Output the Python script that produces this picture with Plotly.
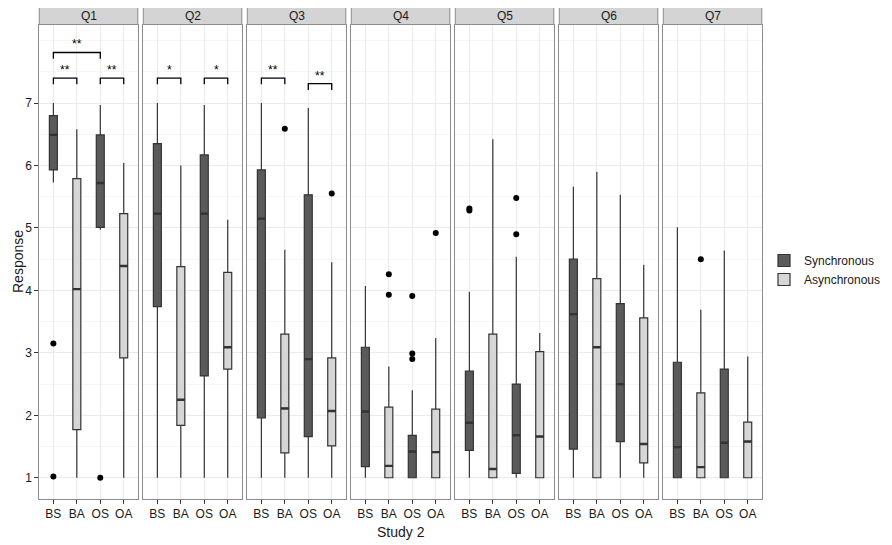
import plotly.graph_objects as go

# the page body adds an 8px margin, so the figure is drawn 8px smaller
# and reference pixel positions are shifted by OFF
OFF = 8
W, H = 892 - OFF, 545 - OFF

questions = ["Q1", "Q2", "Q3", "Q4", "Q5", "Q6", "Q7"]
conditions = ["BS", "BA", "OS", "OA"]
groups = ["Synchronous", "Asynchronous", "Synchronous", "Asynchronous"]

# box statistics per question, in the order of `conditions`
lower = [
    [5.73, 1.0, 4.97, 1.0],
    [1.0, 1.0, 1.0, 1.0],
    [1.0, 1.0, 1.0, 1.0],
    [1.0, 1.0, 1.0, 1.0],
    [1.0, 1.0, 1.0, 1.0],
    [1.0, 1.0, 1.0, 1.0],
    [1.0, 1.0, 1.0, 1.0],
]
q1 = [
    [5.93, 1.77, 5.01, 2.92],
    [3.74, 1.84, 2.63, 2.74],
    [1.96, 1.40, 1.66, 1.51],
    [1.18, 1.0, 1.0, 1.0],
    [1.44, 1.0, 1.07, 1.0],
    [1.46, 1.0, 1.58, 1.24],
    [1.0, 1.0, 1.0, 1.0],
]
median = [
    [6.49, 4.02, 5.72, 4.39],
    [5.23, 2.25, 5.23, 3.09],
    [5.15, 2.11, 2.90, 2.07],
    [2.06, 1.19, 1.42, 1.41],
    [1.88, 1.14, 1.68, 1.66],
    [3.62, 3.09, 2.50, 1.54],
    [1.49, 1.17, 1.56, 1.58],
]
q3 = [
    [6.80, 5.79, 6.49, 5.23],
    [6.35, 4.38, 6.17, 4.29],
    [5.93, 3.30, 5.53, 2.92],
    [3.09, 2.13, 1.68, 2.10],
    [2.71, 3.30, 2.50, 3.02],
    [4.50, 4.19, 3.79, 3.56],
    [2.85, 2.36, 2.74, 1.89],
]
upper = [
    [7.0, 6.58, 6.97, 6.04],
    [7.0, 6.0, 6.97, 5.13],
    [7.0, 4.65, 6.92, 4.45],
    [4.07, 2.78, 2.40, 3.24],
    [3.98, 6.42, 4.54, 3.32],
    [5.66, 5.90, 5.53, 4.41],
    [5.01, 3.69, 4.64, 2.94],
]
outliers = [
    [[3.15, 1.02], [], [1.0], []],
    [[], [], [], []],
    [[], [6.59], [], [5.55]],
    [[], [4.26, 3.93], [3.91, 2.99, 2.90], [4.92]],
    [[5.28, 5.31], [], [5.48, 4.90], []],
    [[], [], [], []],
    [[], [4.50], [], []],
]

# significance brackets: question, from, to, height, label
brackets = [
    ("Q1", "BS", "BA", 7.40, "**"),
    ("Q1", "OS", "OA", 7.40, "**"),
    ("Q1", "BS", "OS", 7.81, "**"),
    ("Q2", "BS", "BA", 7.40, "*"),
    ("Q2", "OS", "OA", 7.40, "*"),
    ("Q3", "BS", "BA", 7.40, "**"),
    ("Q3", "OS", "OA", 7.31, "**"),
]

fills = {"Synchronous": "#5a5a5a", "Asynchronous": "#d6d6d6"}
font = "Liberation Sans, Arial, sans-serif"


def px(x):
    return (x - OFF) / W


def py(y):
    return 1 - (y - OFF) / H


# panel geometry in reference pixels
left0, pw, step = 39.3, 98.5, 104.0
ptop, pbot = 25.0, 499.0
yrange = [0.66, 8.25]

fig = go.Figure()
shown = set()
for i, q in enumerate(questions):
    xa = "x" if i == 0 else f"x{i+1}"
    ya = "y" if i == 0 else f"y{i+1}"
    for j, c in enumerate(conditions):
        g = groups[j]
        fig.add_trace(go.Box(
            x=[c], q1=[q1[i][j]], median=[median[i][j]], q3=[q3[i][j]],
            lowerfence=[lower[i][j]], upperfence=[upper[i][j]],
            name=g, legendgroup=g, showlegend=g not in shown,
            fillcolor=fills[g], line=dict(color="#333333", width=1.2),
            width=0.34, whiskerwidth=0, boxpoints=False,
            xaxis=xa, yaxis=ya, hoverinfo="skip"))
        shown.add(g)
        # thicker median bar, drawn as a flat box
        m = median[i][j]
        fig.add_trace(go.Box(
            x=[c], q1=[m], median=[m], q3=[m], lowerfence=[m], upperfence=[m],
            showlegend=False, fillcolor="#333333",
            line=dict(color="#333333", width=2.4),
            width=0.34, whiskerwidth=0, boxpoints=False,
            xaxis=xa, yaxis=ya, hoverinfo="skip"))
        if outliers[i][j]:
            fig.add_trace(go.Scatter(
                x=[c] * len(outliers[i][j]), y=outliers[i][j], mode="markers",
                marker=dict(color="black", size=6), showlegend=False,
                xaxis=xa, yaxis=ya, hoverinfo="skip"))

    x0 = px(left0 + step * i)
    x1 = px(left0 + step * i + pw)
    fig.update_layout({
        ("xaxis" if i == 0 else f"xaxis{i+1}"): dict(
            domain=[x0, x1], anchor=ya, type="category",
            categoryorder="array", categoryarray=conditions,
            range=[-0.6, 3.6], showgrid=True, gridcolor="#ebebeb",
            showline=True, mirror=True, linecolor="#8c8c8c", linewidth=1,
            ticks="outside", ticklen=4, tickcolor="#333333",
            tickfont=dict(family=font, size=12, color="#1a1a1a"),
            zeroline=False, fixedrange=True),
        ("yaxis" if i == 0 else f"yaxis{i+1}"): dict(
            domain=[py(pbot), py(ptop)], anchor=xa,
            range=yrange, tickvals=[1, 2, 3, 4, 5, 6, 7],
            showticklabels=(i == 0), ticks="outside" if i == 0 else "",
            ticklen=4, tickcolor="#333333",
            tickfont=dict(family=font, size=12, color="#1a1a1a"),
            showgrid=True, gridcolor="#ebebeb",
            minor=dict(dtick=0.5, tick0=0.5, showgrid=True, gridcolor="#f6f6f6"),
            showline=True, mirror=True, linecolor="#8c8c8c", linewidth=1,
            zeroline=False, fixedrange=True),
    })
    # facet strip
    fig.add_shape(type="rect", xref="paper", yref="paper",
                  x0=x0, x1=x1, y0=py(24.5), y1=py(6),
                  fillcolor="#d4d4d4", line=dict(color="#8c8c8c", width=1))
    fig.add_annotation(xref="paper", yref="paper", x=(x0 + x1) / 2,
                       y=py(15.5), xanchor="center", yanchor="middle",
                       text=q, showarrow=False,
                       font=dict(family=font, size=12, color="#1a1a1a"))

# significance brackets
for q, a, b, h, lab in brackets:
    i = questions.index(q)
    xa = "x" if i == 0 else f"x{i+1}"
    ya = "y" if i == 0 else f"y{i+1}"
    fig.add_trace(go.Scatter(
        x=[a, a, b, b], y=[h - 0.1, h, h, h - 0.1], mode="lines",
        line=dict(color="black", width=1.3), showlegend=False,
        xaxis=xa, yaxis=ya, hoverinfo="skip"))
    mid = (conditions.index(a) + conditions.index(b)) / 2
    fig.add_annotation(xref=xa, yref=ya, x=mid, y=h, text=lab,
                       showarrow=False, xanchor="center", yanchor="bottom",
                       yshift=-1,
                       font=dict(family=font, size=12, color="black"))

fig.add_annotation(xref="paper", yref="paper", x=px(401), y=py(532),
                   xanchor="center", yanchor="middle",
                   text="Study 2", showarrow=False,
                   font=dict(family=font, size=14, color="#1a1a1a"))
fig.add_annotation(xref="paper", yref="paper", x=px(18), y=py(262),
                   xanchor="center", yanchor="middle",
                   text="Response", showarrow=False, textangle=-90,
                   font=dict(family=font, size=14, color="#1a1a1a"))

fig.update_layout(
    width=W, height=H, autosize=False,
    margin=dict(l=0, r=0, t=0, b=0),
    paper_bgcolor="white", plot_bgcolor="white",
    boxmode="overlay",
    legend=dict(x=px(764), y=py(246), xanchor="left", yanchor="top",
                font=dict(family=font, size=12, color="#1a1a1a"),
                tracegroupgap=0, itemwidth=30, bgcolor="rgba(0,0,0,0)"),
)

fig.write_html("out.html")
